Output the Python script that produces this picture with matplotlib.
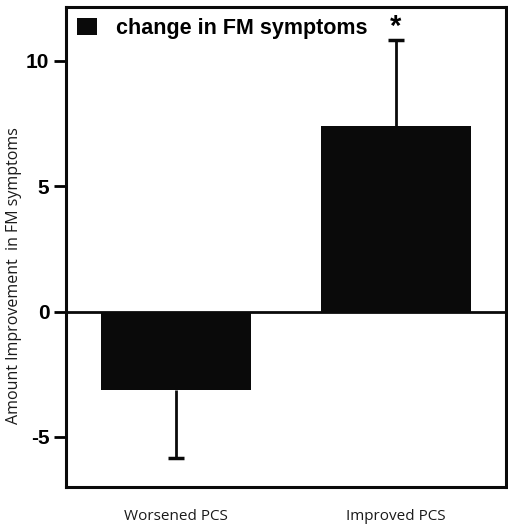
import numpy as np
import matplotlib.pyplot as plt

# data
groups = ["Worsened PCS", "Improved PCS"]
change = [-3.15, 7.4]
err = [2.68, 3.45]     # one-sided error, drawn away from zero
yticks = [-5, 0, 5, 10]
legend_label = "change in FM symptoms"
ylabel = "Amount Improvement  in FM symptoms"

fig = plt.figure(figsize=(5.08, 5.32), dpi=100)
ax = fig.add_axes([66/508, 1-487/532, 440/508, 480/532])

x = np.arange(len(groups))
ax.bar(x, change, width=0.68, color="#0a0a0a", label=legend_label, zorder=2)

# one-sided error bars: stem + single cap at the far end
ends = [c + np.sign(c) * e for c, e in zip(change, err)]
ax.vlines(x, change, ends, color="#0a0a0a", lw=2, zorder=1)
ax.hlines(ends, x - 0.035, x + 0.035, color="#0a0a0a", lw=2.5, zorder=1)
ax.axhline(0, color="#0a0a0a", lw=2, zorder=3)

ax.set_xlim(-0.5, 1.5)
ax.set_ylim(-7.0, 12.15)
ax.set_yticks(yticks)
ax.set_yticklabels([str(v) for v in yticks], fontsize=15, fontweight="bold",
                   family="Liberation Sans")
ax.tick_params(axis="y", direction="out", length=9, width=2, pad=3)
ax.set_xticks(x)
ax.set_xticklabels(groups, fontsize=11, family="Open Sans", color="#1a1a1a")
ax.tick_params(axis="x", length=0, pad=16)

for s in ax.spines.values():
    s.set_linewidth(2.2)
    s.set_color("#0a0a0a")

ax.set_ylabel(ylabel, fontsize=11.5, family="Open Sans", color="#1a1a1a")
ax.yaxis.set_label_coords(-0.10, 0.44)

# significance star above the improved bar
ax.text(x[1], ends[1] - 0.05, "*", ha="center", va="bottom",
        fontsize=21, fontweight="bold", family="Liberation Sans")

leg = ax.legend(loc="upper left", frameon=False, handlelength=0.95, handleheight=0.85,
                handletextpad=0.85, borderaxespad=0.1,
                prop={"family": "Liberation Sans", "weight": "bold", "size": 15.5})

fig.savefig("out.png", dpi=100)
